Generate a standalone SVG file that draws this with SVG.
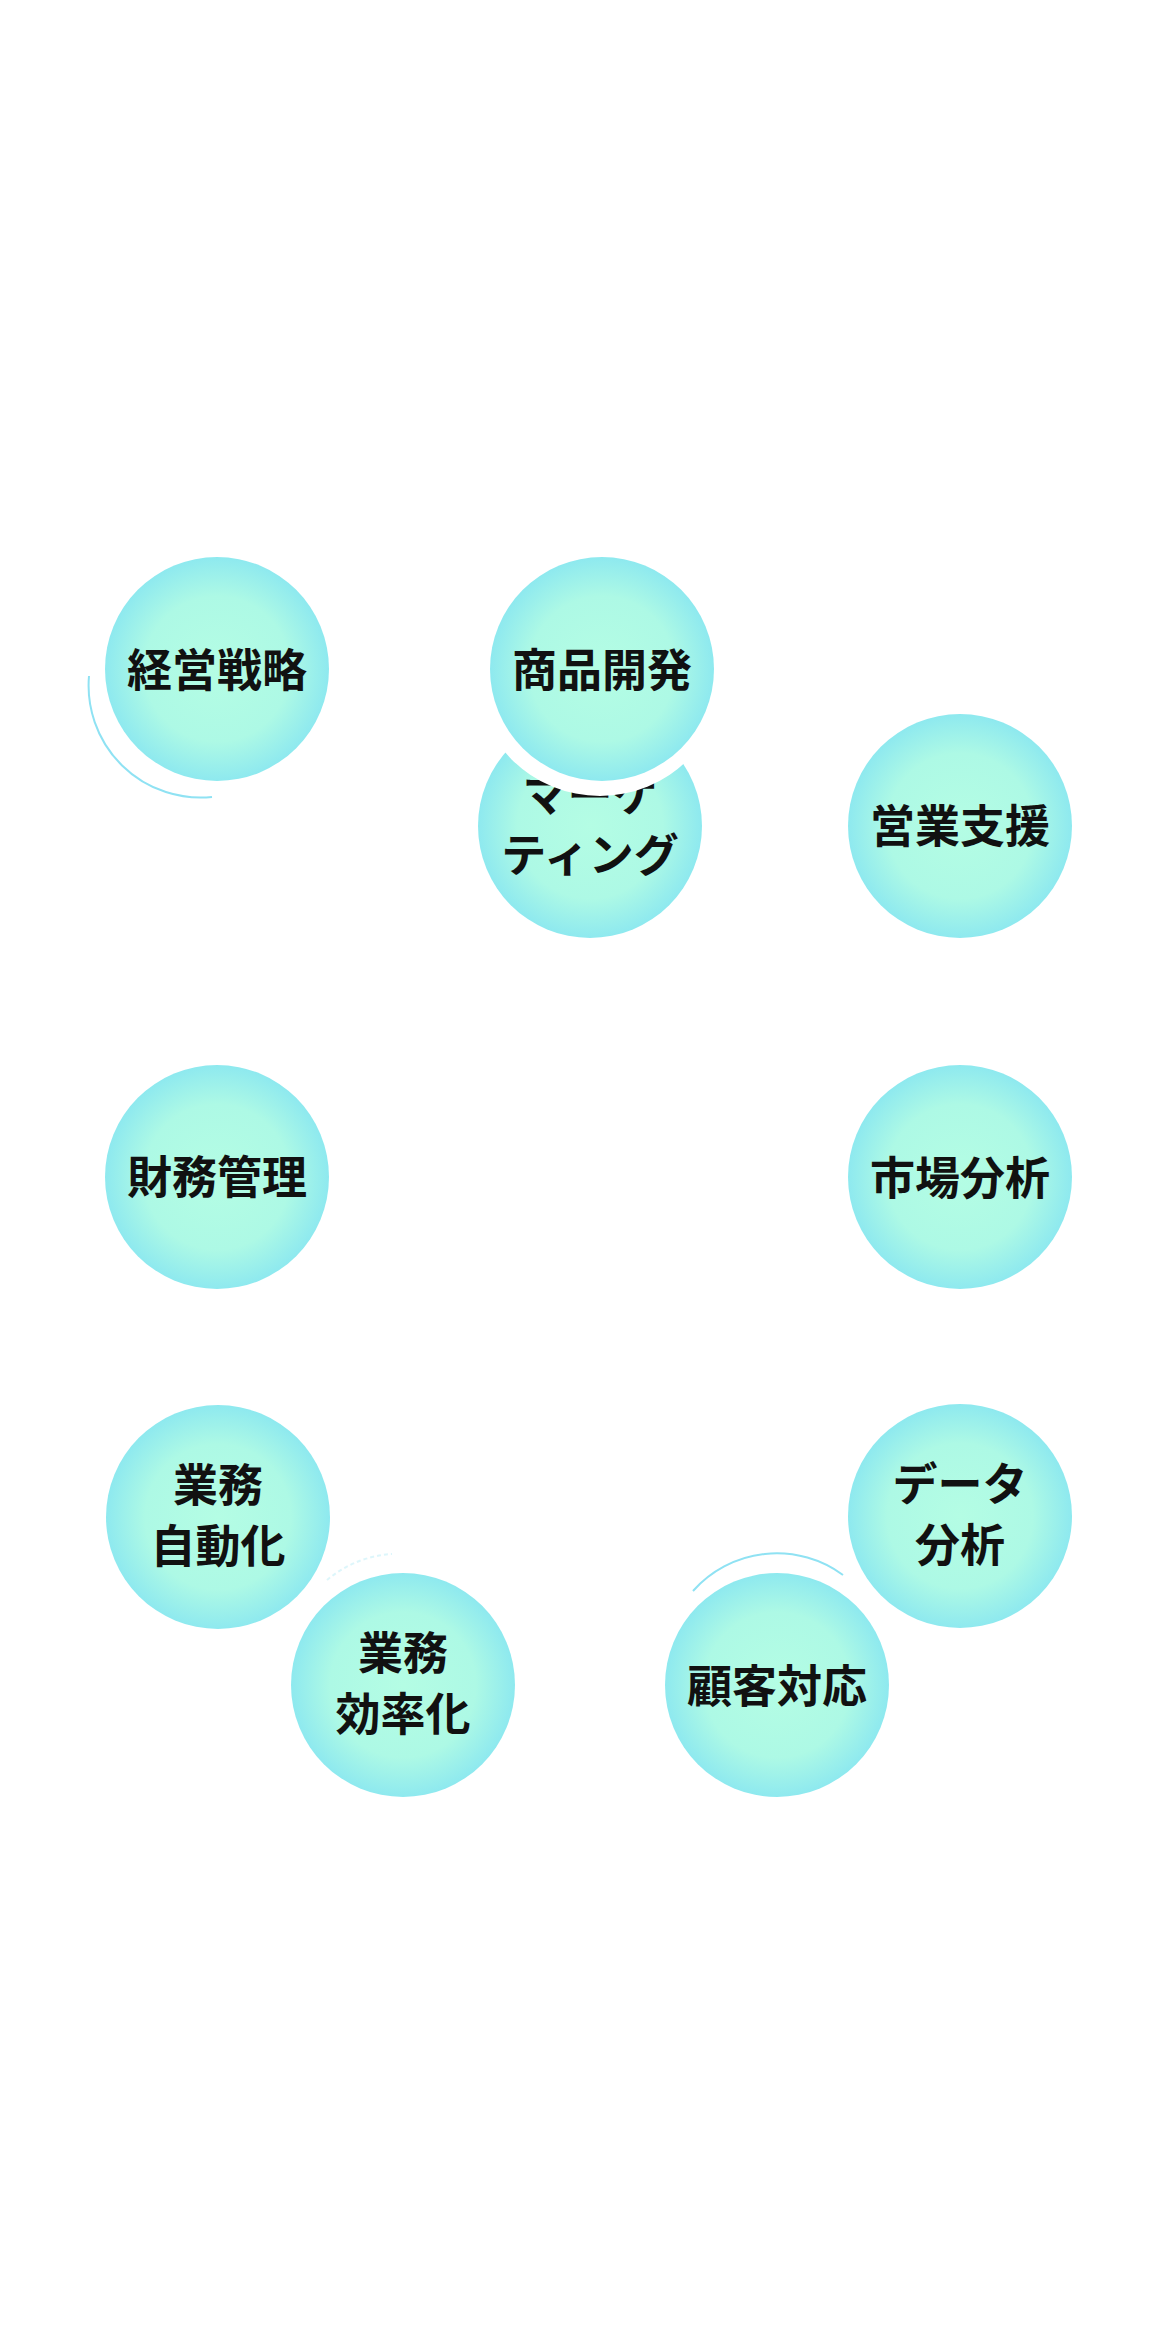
<svg xmlns="http://www.w3.org/2000/svg" width="1170" height="2352" viewBox="0 0 1170 2352">
<defs>
<radialGradient id="ball" cx="50%" cy="50%" r="50%">
<stop offset="0%" stop-color="#b4fde4"/>
<stop offset="65%" stop-color="#adf9e5"/>
<stop offset="100%" stop-color="#8ee9ef"/>
</radialGradient>
<linearGradient id="fadeL" x1="0" y1="0" x2="1" y2="1">
<stop offset="0%" stop-color="#c8f3fa" stop-opacity="0.3"/>
<stop offset="100%" stop-color="#b5ecf7"/>
</linearGradient>
<style>
.ball{fill:url(#ball);}
.lbl{font-family:"Noto Sans CJK JP","Noto Sans CJK SC",sans-serif;font-weight:700;font-size:45px;fill:#111;text-anchor:middle;}
.deco{fill:none;stroke:#8fe2f3;stroke-width:2;}
</style>
</defs>
<rect width="1170" height="2352" fill="#ffffff"/>
<g id="connectors"></g>
<g id="n-keiei">
<path class="deco" d="M 89 676 A 112 112 0 0 0 212 797" stroke="url(#fadeL)" stroke-width="2.5"/>
<circle class="ball" cx="217" cy="669" r="112"/>
<text class="lbl" x="217" y="687">経営戦略</text>
</g>
<g id="n-marketing">
<circle class="ball" cx="590" cy="826" r="112"/>
<text class="lbl" x="590" y="812">マーケ</text>
<text class="lbl" x="590" y="872">ティング</text>
</g>
<g id="n-shohin">
<circle cx="600" cy="671" r="125" fill="#ffffff"/>
<circle class="ball" cx="602" cy="669" r="112"/>
<text class="lbl" x="602" y="687">商品開発</text>
</g>
<g id="n-eigyo">
<circle class="ball" cx="960" cy="826" r="112"/>
<text class="lbl" x="960" y="843">営業支援</text>
</g>
<g id="n-zaimu">
<circle class="ball" cx="217" cy="1177" r="112"/>
<text class="lbl" x="217" y="1194">財務管理</text>
</g>
<g id="n-shijo">
<circle class="ball" cx="960" cy="1177" r="112"/>
<text class="lbl" x="960" y="1195">市場分析</text>
</g>
<g id="n-jidoka">
<circle class="ball" cx="218" cy="1517" r="112"/>
<text class="lbl" x="218" y="1502">業務</text>
<text class="lbl" x="218" y="1563">自動化</text>
</g>
<g id="n-data">
<circle class="ball" cx="960" cy="1516" r="112"/>
<text class="lbl" x="960" y="1501">データ</text>
<text class="lbl" x="960" y="1562">分析</text>
</g>
<g id="n-koritsu">
<path class="deco" d="M 327 1580 A 112 112 0 0 1 392 1554" opacity="0.3" stroke-dasharray="4 3"/>
<circle class="ball" cx="403" cy="1685" r="112"/>
<text class="lbl" x="403" y="1670">業務</text>
<text class="lbl" x="403" y="1731">効率化</text>
</g>
<g id="n-kokyaku">
<path class="deco" d="M 693 1591 A 112 112 0 0 1 843 1575" stroke="#6fd6f2" stroke-width="2.5"/>
<circle class="ball" cx="777" cy="1685" r="112"/>
<text class="lbl" x="777" y="1703">顧客対応</text>
</g>
</svg>
